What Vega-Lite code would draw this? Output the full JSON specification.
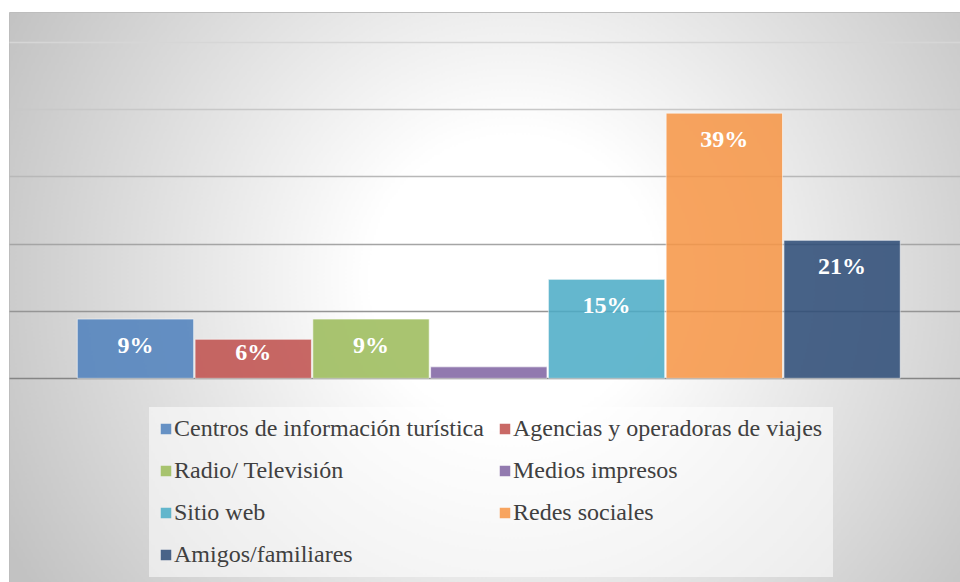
{
  "$schema": "https://vega.github.io/schema/vega-lite/v6.json",
  "autosize": {"type": "none"},
  "width": 951,
  "height": 570,
  "padding": {"left": 9, "top": 12, "right": 0, "bottom": 0},
  "background": "#ffffff",
  "data": {
    "values": [
      {"categoria": "Centros de información turística", "valor": 8.8, "etiqueta": "9%"},
      {"categoria": "Agencias y operadoras de viajes", "valor": 5.8, "etiqueta": "6%"},
      {"categoria": "Radio/ Televisión", "valor": 8.8, "etiqueta": "9%"},
      {"categoria": "Medios impresos", "valor": 1.7, "etiqueta": ""},
      {"categoria": "Sitio web", "valor": 14.7, "etiqueta": "15%"},
      {"categoria": "Redes sociales", "valor": 39.4, "etiqueta": "39%"},
      {"categoria": "Amigos/familiares", "valor": 20.5, "etiqueta": "21%"}
    ]
  },
  "encoding": {
    "x": {
      "field": "categoria",
      "type": "nominal",
      "sort": null,
      "axis": null,
      "scale": {"paddingInner": 0.012, "paddingOuter": 0.5435, "align": 0.5335}
    },
    "y": {
      "field": "valor",
      "type": "quantitative",
      "scale": {"domain": [-30.27, 54.43], "nice": false, "zero": false},
      "axis": {
        "title": null,
        "labels": false,
        "ticks": false,
        "domain": false,
        "grid": true,
        "values": [0, 10, 20, 30, 40, 50],
        "gridWidth": 1.3,
        "gridColor": {
          "condition": [
            {"test": "datum.value === 0", "value": "#858585"},
            {"test": "datum.value === 10", "value": "#959595"},
            {"test": "datum.value === 20", "value": "#a5a5a5"},
            {"test": "datum.value === 30", "value": "#b8b8b8"},
            {"test": "datum.value === 40", "value": "#c8c8c8"}
          ],
          "value": "#d6d6d6"
        }
      }
    }
  },
  "layer": [
    {
      "mark": {"type": "bar", "opacity": 0.86, "stroke": "#ffffff", "strokeOpacity": 0.6, "strokeWidth": 1},
      "encoding": {
        "color": {
          "field": "categoria",
          "type": "nominal",
          "sort": null,
          "scale": {
            "domain": ["Centros de información turística", "Agencias y operadoras de viajes", "Radio/ Televisión", "Medios impresos", "Sitio web", "Redes sociales", "Amigos/familiares"],
            "range": ["#4F81BD", "#C0504D", "#9BBB59", "#8064A2", "#4BACC6", "#F79646", "#2D4C77"]
          },
          "legend": {
            "title": null,
            "orient": "none",
            "legendX": 140,
            "legendY": 395,
            "columns": 2,
            "direction": "horizontal",
            "columnPadding": 14,
            "rowPadding": 18,
            "padding": 10,
            "fillColor": "rgba(255,255,255,0.55)",
            "symbolType": "square",
            "symbolSize": 110,
            "symbolStrokeWidth": 0,
            "symbolOpacity": 0.86,
            "symbolOffset": -5,
            "labelFont": "Liberation Serif",
            "labelFontSize": 24,
            "labelColor": "#404040",
            "labelOffset": -4,
            "labelLimit": 500
          }
        }
      }
    },
    {
      "transform": [{"filter": "datum.valor >= 7"}],
      "mark": {"type": "text", "font": "Liberation Serif", "fontSize": 24, "fontWeight": "bold", "color": "#ffffff", "baseline": "middle", "align": "center", "dy": 27},
      "encoding": {"text": {"field": "etiqueta", "type": "nominal"}}
    },
    {
      "transform": [{"filter": "datum.valor > 3 && datum.valor < 7"}],
      "mark": {"type": "text", "font": "Liberation Serif", "fontSize": 24, "fontWeight": "bold", "color": "#ffffff", "baseline": "middle", "align": "center", "dy": 14},
      "encoding": {"text": {"field": "etiqueta", "type": "nominal"}}
    }
  ],
  "config": {
    "view": {
      "stroke": "#bdbdbd",
      "strokeWidth": 1,
      "fill": {
        "gradient": "radial",
        "x1": 0.53, "y1": 0.48, "r1": 0,
        "x2": 0.53, "y2": 0.48, "r2": 0.6,
        "stops": [
          {"offset": 0, "color": "#ffffff"},
          {"offset": 0.25, "color": "#ffffff"},
          {"offset": 1, "color": "#c2c2c2"}
        ]
      }
    }
  }
}
